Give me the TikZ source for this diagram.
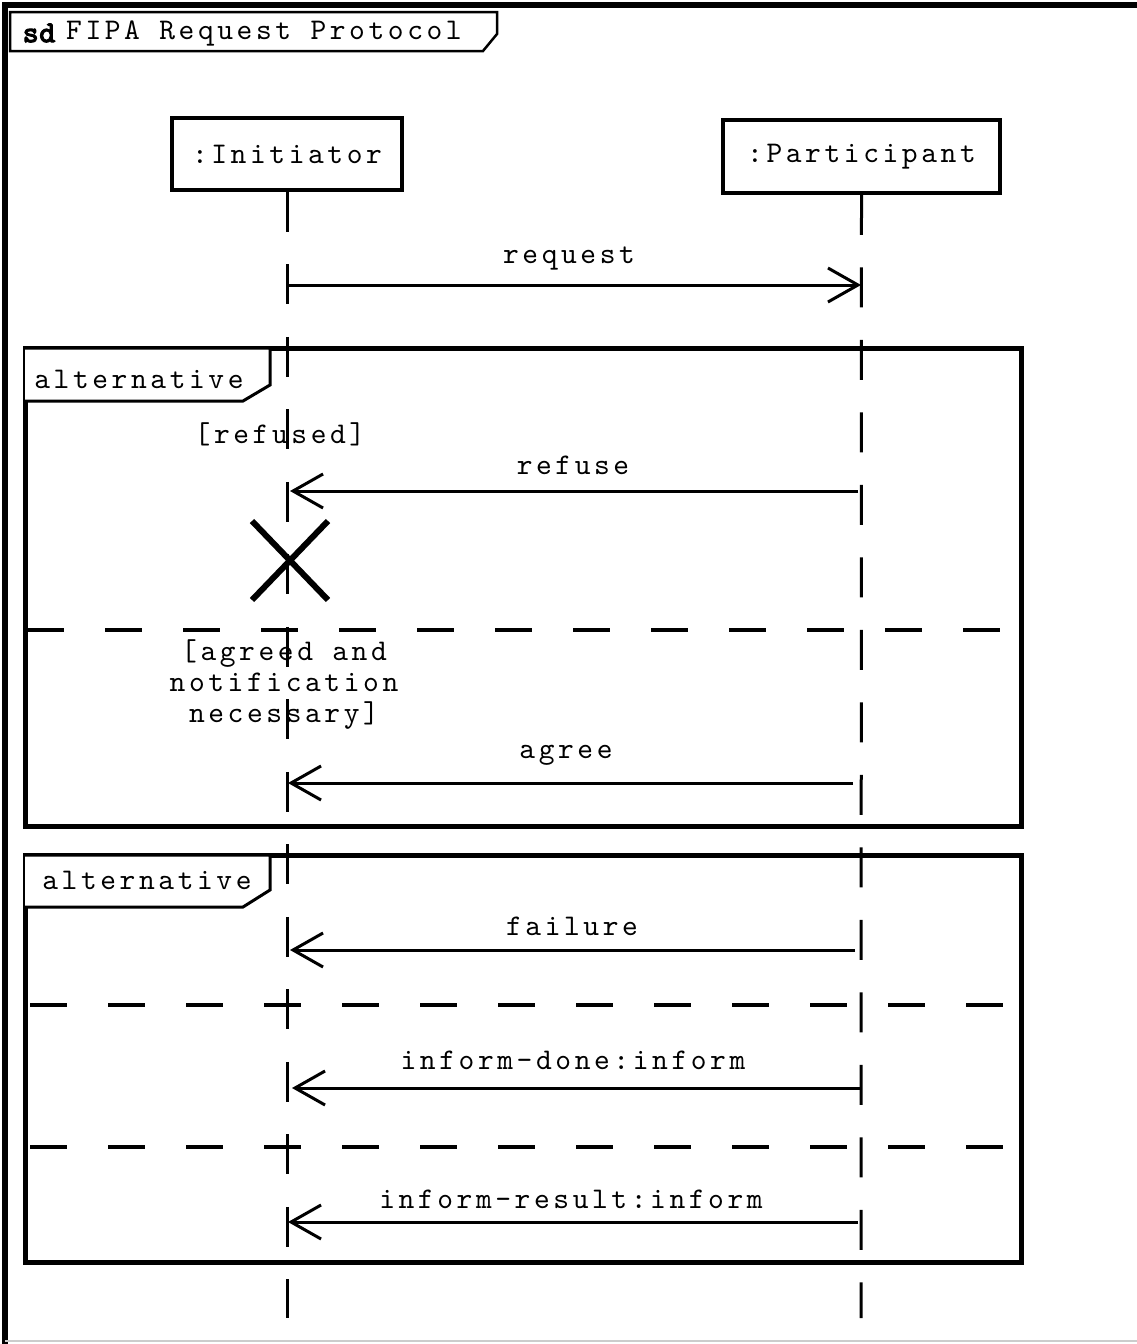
\documentclass[tikz,border=0pt]{standalone}
\usepackage{fontspec}
\usetikzlibrary{arrows.meta}
\newfontfamily\cour{lmmono10-regular.otf}[LetterSpace=12]
\newfontfamily\courbold{lmmono10-regular.otf}[LetterSpace=3,FakeBold=4]
\begin{document}
\begin{tikzpicture}[x=1pt,y=-1pt,
  txt/.style={font={\cour\fontsize{30}{31}\selectfont}, inner sep=0pt, anchor=center},
  obj/.style={draw, line width=3.5pt, minimum width=230pt, minimum height=72pt, inner sep=0pt, font={\cour\fontsize{30}{31}\selectfont}},
  life/.style={line width=3pt, dash pattern=on 40pt off 32.5pt},
  msg/.style={line width=3pt, -{Straight Barb[length=30pt,width=34pt,line width=3pt]}},
  frm/.style={line width=5pt},
  sep/.style={line width=3.5pt, dash pattern=on 37pt off 41pt},
  tab/.style={line width=3pt, fill=white, line join=miter}]

\useasboundingbox (0,0) rectangle (1137,1344);
\fill[white] (0,0) rectangle (1137,1344);

% outer frame
\draw[line width=5.5pt] (5,1344) -- (5,5) -- (1137,5);
\draw[gray!40, line width=1.5pt] (5,1341) -- (1137,1341);
\draw[line width=2.5pt, fill=white] (10,12) -- (497,12) -- (497,34) -- (483,51) -- (10,51) -- cycle;
\node[txt, font={\courbold\fontsize{30}{31}\selectfont}] (sd) at (39,33) {sd};
\node[txt, anchor=west] (title) at (66,33) {FIPA Request Protocol};

% objects
\node[obj] (ini) at (287,154) {:Initiator};
\node[obj, minimum width=277pt, minimum height=73pt] (par) at (861.5,156.5) {:Participant};

% lifelines
\coordinate (iend) at (287,1318);
\coordinate (pend) at (861,1318);
\draw[life] (ini.south) -- (iend);
\draw[life] (par.south) -- (pend);

% request
\coordinate (i1) at (287,285);
\coordinate (p1) at (861,285);
\draw[msg] (i1) -- (p1);
\node[txt] (lreq) at (569,259) {request};

% frame 1
\draw[frm] (25,348) rectangle (1021,826);
\draw[tab] (25,348) -- (270,348) -- (270,385) -- (243,401) -- (25,401);
\node[txt] (alt1) at (139,379) {alternative};
\node[txt] (g1) at (280,434) {[refused]};

\coordinate (p2) at (858,491);
\coordinate (i2) at (290,491);
\draw[msg] (p2) -- (i2);
\node[txt] (lref) at (573,465) {refuse};

\draw[line width=6pt] (252,521) -- (328,600) (252,600) -- (328,521);

\draw[sep] (27,630) -- (1000,630);
\node[txt, align=center] (g2) at (284,685) {[agreed and\\notification\\necessary]};

\coordinate (p3) at (853,783);
\coordinate (i3) at (288,783);
\draw[msg] (p3) -- (i3);
\node[txt] (lagr) at (566,755) {agree};

% frame 2
\draw[frm] (25,855) rectangle (1021,1262);
\draw[tab] (25,855) -- (270,855) -- (270,890) -- (243,907) -- (25,907);
\node[txt] (alt2) at (147,880) {alternative};

\coordinate (p4) at (855,950);
\coordinate (i4) at (290,950);
\draw[msg] (p4) -- (i4);
\node[txt] (lfail) at (572,926) {failure};

\draw[sep] (30,1005) -- (1005,1005);

\coordinate (p5) at (861,1088);
\coordinate (i5) at (292,1088);
\draw[msg] (p5) -- (i5);
\node[txt] (ldone) at (573,1060) {inform-done:inform};

\draw[sep] (30,1147) -- (1005,1147);

\coordinate (p6) at (858,1222);
\coordinate (i6) at (288,1222);
\draw[msg] (p6) -- (i6);
\node[txt] (lres) at (571,1199) {inform-result:inform};
\end{tikzpicture}
\end{document}
